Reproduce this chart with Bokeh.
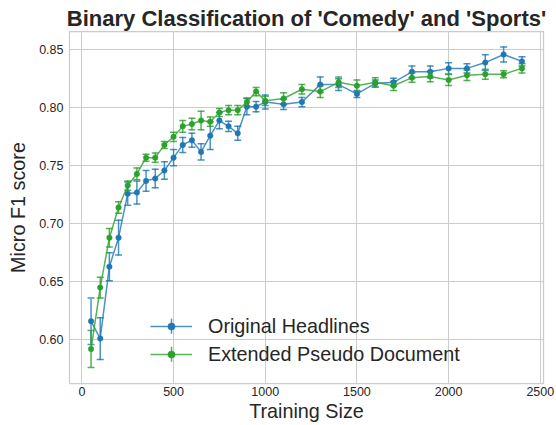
from bokeh.plotting import figure
from bokeh.models import (ColumnDataSource, Range1d, FixedTicker, PrintfTickFormatter,
                          Whisker, TeeHead, Legend, LegendItem)
from bokeh.embed import file_html
from bokeh.resources import INLINE

# ---------------- data ----------------
train_size = [50, 100, 150, 200, 250, 300, 350, 400, 450, 500, 550, 600, 650, 700, 750,
              800, 850, 900, 950, 1000, 1100, 1200, 1300, 1400, 1500, 1600, 1700, 1800,
              1900, 2000, 2100, 2200, 2300, 2400]

orig_mean = [0.616, 0.601, 0.663, 0.688, 0.726, 0.727, 0.737, 0.739, 0.746, 0.757,
             0.768, 0.772, 0.762, 0.776, 0.789, 0.784, 0.778, 0.801, 0.801, 0.805,
             0.803, 0.805, 0.820, 0.820, 0.812, 0.821, 0.822, 0.831, 0.831, 0.834,
             0.834, 0.839, 0.846, 0.840]
orig_err = [0.020, 0.018, 0.012, 0.015, 0.010, 0.010, 0.009, 0.008, 0.0075, 0.007,
            0.0065, 0.006, 0.007, 0.012, 0.007, 0.0045, 0.006, 0.007, 0.0045, 0.006,
            0.0045, 0.004, 0.0065, 0.005, 0.003, 0.003, 0.0035, 0.005, 0.005, 0.0048,
            0.004, 0.0068, 0.0065, 0.004]

ext_mean = [0.592, 0.645, 0.688, 0.714, 0.733, 0.743, 0.757, 0.757, 0.768, 0.775,
            0.784, 0.786, 0.789, 0.788, 0.796, 0.798, 0.798, 0.805, 0.814, 0.806,
            0.808, 0.816, 0.814, 0.822, 0.819, 0.822, 0.819, 0.826, 0.827, 0.824,
            0.828, 0.829, 0.829, 0.834]
ext_err = [0.016, 0.009, 0.008, 0.005, 0.004, 0.005, 0.003, 0.004, 0.003, 0.004,
           0.005, 0.005, 0.008, 0.004, 0.0035, 0.004, 0.004, 0.0035, 0.0035, 0.004,
           0.005, 0.004, 0.005, 0.0045, 0.005, 0.004, 0.004, 0.004, 0.0045, 0.0048,
           0.0045, 0.0043, 0.003, 0.004]

series_labels = ["Original Headlines", "Extended Pseudo Document"]
series_colors = ["#1f77b4", "#2ca02c"]

x_ticks = [0, 500, 1000, 1500, 2000, 2500]
y_ticks = [0.60, 0.65, 0.70, 0.75, 0.80, 0.85]

title_text = "Binary Classification of 'Comedy' and 'Sports'"
x_label = "Training Size"
y_label = "Micro F1 score"

# ---------------- styling ----------------
FONT = "Liberation Sans"
TEXT = "#262626"
GRID = "#cccccc"

p = figure(width=556, height=425, output_backend="svg", toolbar_location=None,
           x_range=Range1d(-67.5, 2517.5), y_range=Range1d(0.5623, 0.8658),
           min_border_left=69, min_border_right=13, min_border_top=31,
           min_border_bottom=42)

p.background_fill_color = "white"
p.border_fill_color = "white"
p.outline_line_color = GRID
p.outline_line_width = 1.25

p.title.text = title_text
p.title.text_font = FONT
p.title.text_font_size = "22px"
p.title.text_font_style = "bold"
p.title.text_color = TEXT
p.title.align = "center"
p.title.standoff = 2

for ax in (p.xaxis[0], p.yaxis[0]):
    ax.axis_line_color = None
    ax.major_tick_line_color = None
    ax.minor_tick_line_color = None
    ax.major_tick_out = 0
    ax.major_tick_in = 0
    ax.minor_tick_out = 0
    ax.minor_tick_in = 0
    ax.major_label_text_font = FONT
    ax.major_label_text_font_size = "12.5px"
    ax.major_label_text_color = TEXT
    ax.axis_label_text_font = FONT
    ax.axis_label_text_font_size = "19.8px"
    ax.axis_label_text_font_style = "normal"
    ax.axis_label_text_color = TEXT

p.xaxis.axis_label = x_label
p.yaxis.axis_label = y_label
p.xaxis.ticker = FixedTicker(ticks=x_ticks)
p.yaxis.ticker = FixedTicker(ticks=y_ticks)
p.yaxis.formatter = PrintfTickFormatter(format="%.2f")
p.xaxis.major_label_standoff = 3
p.yaxis.major_label_standoff = 6
p.xaxis.axis_label_standoff = 1
p.yaxis.axis_label_standoff = 7

p.grid.grid_line_color = GRID
p.grid.grid_line_width = 1

items = []
for mean, err, color, label in zip([orig_mean, ext_mean], [orig_err, ext_err],
                                   series_colors, series_labels):
    src = ColumnDataSource(dict(
        x=train_size, y=mean,
        lower=[m - e for m, e in zip(mean, err)],
        upper=[m + e for m, e in zip(mean, err)],
        h=[2 * e for e in err],
    ))
    bars = p.ellipse(x="x", y="y", width=0.01, width_units="screen", height="h",
                     source=src, fill_color=None, line_color=color,
                     line_width=1.5, line_alpha=0.8)
    p.add_layout(Whisker(source=src, base="x", upper="upper", lower="lower",
                         line_alpha=0,
                         upper_head=TeeHead(size=7, line_color=color, line_width=1.5,
                                            line_alpha=0.8),
                         lower_head=TeeHead(size=7, line_color=color, line_width=1.5,
                                            line_alpha=0.8)))
    line = p.line("x", "y", source=src, line_color=color, line_width=1.5,
                  line_alpha=0.8)
    dots = p.scatter("x", "y", source=src, size=5.5, fill_color=color,
                     line_color=color, line_width=0.5)
    items.append(LegendItem(label=label, renderers=[line, bars, dots]))

legend = Legend(items=items, location=(81, 17), padding=0, margin=0,
                border_line_color=None, background_fill_alpha=0,
                glyph_width=42, glyph_height=18, label_height=24, spacing=4,
                label_standoff=16, label_text_font=FONT,
                label_text_font_size="19.8px", label_text_color=TEXT)
p.add_layout(legend)

open("out.html", "w").write(file_html(p, INLINE))
